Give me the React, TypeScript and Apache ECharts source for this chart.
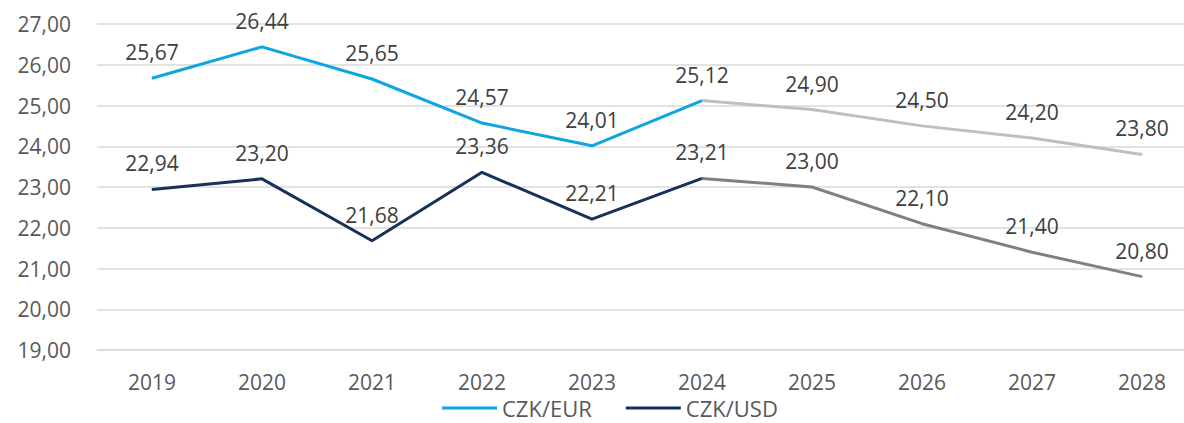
import React, { useEffect, useRef } from "react";
import * as echarts from "echarts";

const years = ["2019", "2020", "2021", "2022", "2023", "2024", "2025", "2026", "2027", "2028"];
const eurActual = [25.67, 26.44, 25.65, 24.57, 24.01, 25.12, null, null, null, null];
const eurForecast = [null, null, null, null, null, 25.12, 24.9, 24.5, 24.2, 23.8];
const usdActual = [22.94, 23.2, 21.68, 23.36, 22.21, 23.21, null, null, null, null];
const usdForecast = [null, null, null, null, null, 23.21, 23.0, 22.1, 21.4, 20.8];
const yTicks = { min: 19, max: 27, interval: 1 };

const FONT = "'Open Sans', sans-serif";
const fmt = (v: number) => v.toFixed(2).replace(".", ",");

export default function App() {
  const ref = useRef<HTMLDivElement>(null);
  useEffect(() => {
    if (!ref.current) return;
    const chart = echarts.init(ref.current, null, { renderer: "svg" });
    const labelFor = (skipIndex: number | null) => ({
      show: true,
      position: "top" as const,
      distance: 15,
      color: "#404040",
      fontSize: 21,
      fontFamily: FONT,
      formatter: (p: any) => (skipIndex !== null && p.dataIndex === skipIndex ? "" : fmt(p.value)),
    });
    const mk = (name: string, data: (number | null)[], color: string, skip: number | null) => ({
      name,
      type: "line",
      data,
      symbol: "circle",
      symbolSize: 1,
      showSymbol: true,
      itemStyle: { color },
      lineStyle: { color, width: 3 },
      label: labelFor(skip),
      connectNulls: false,
      z: 2,
    });
    chart.setOption({
      animation: false,
      grid: { left: 97, right: 0, top: 24, bottom: 73, containLabel: false },
      legend: {
        data: ["CZK/EUR", "CZK/USD"],
        left: 442,
        top: 397,
        padding: 0,
        icon: "rect",
        itemWidth: 55,
        itemHeight: 3,
        itemGap: 34,
        textStyle: { fontSize: 22, lineHeight: 22, fontFamily: FONT, color: "#595959" },
      },
      xAxis: {
        type: "category",
        data: years,
        boundaryGap: true,
        axisLine: { show: true, lineStyle: { color: "#d9d9d9", width: 1.5 } },
        axisTick: { show: false },
        axisLabel: { margin: 21, fontSize: 21, lineHeight: 21, fontFamily: FONT, color: "#595959" },
      },
      yAxis: {
        type: "value",
        min: yTicks.min,
        max: yTicks.max,
        interval: yTicks.interval,
        axisLine: { show: false },
        axisTick: { show: false },
        splitLine: { lineStyle: { color: "#d9d9d9", width: 1.5 } },
        axisLabel: {
          margin: 26,
          fontSize: 21,
          fontFamily: FONT,
          color: "#595959",
          formatter: (v: number) => fmt(v),
        },
      },
      series: [
        mk("CZK/EUR", eurActual, "#0ea5e0", null),
        mk("CZK/EUR forecast", eurForecast, "#bfbfbf", 5),
        mk("CZK/USD", usdActual, "#17325a", null),
        mk("CZK/USD forecast", usdForecast, "#808080", 5),
      ],
    });
    return () => chart.dispose();
  }, []);
  return (
    <div style={{ position: "absolute", left: 0, top: 0, width: 1184, height: 423, overflow: "hidden", background: "#fff" }}>
      <div ref={ref} style={{ width: 1197, height: 423 }} />
    </div>
  );
}
